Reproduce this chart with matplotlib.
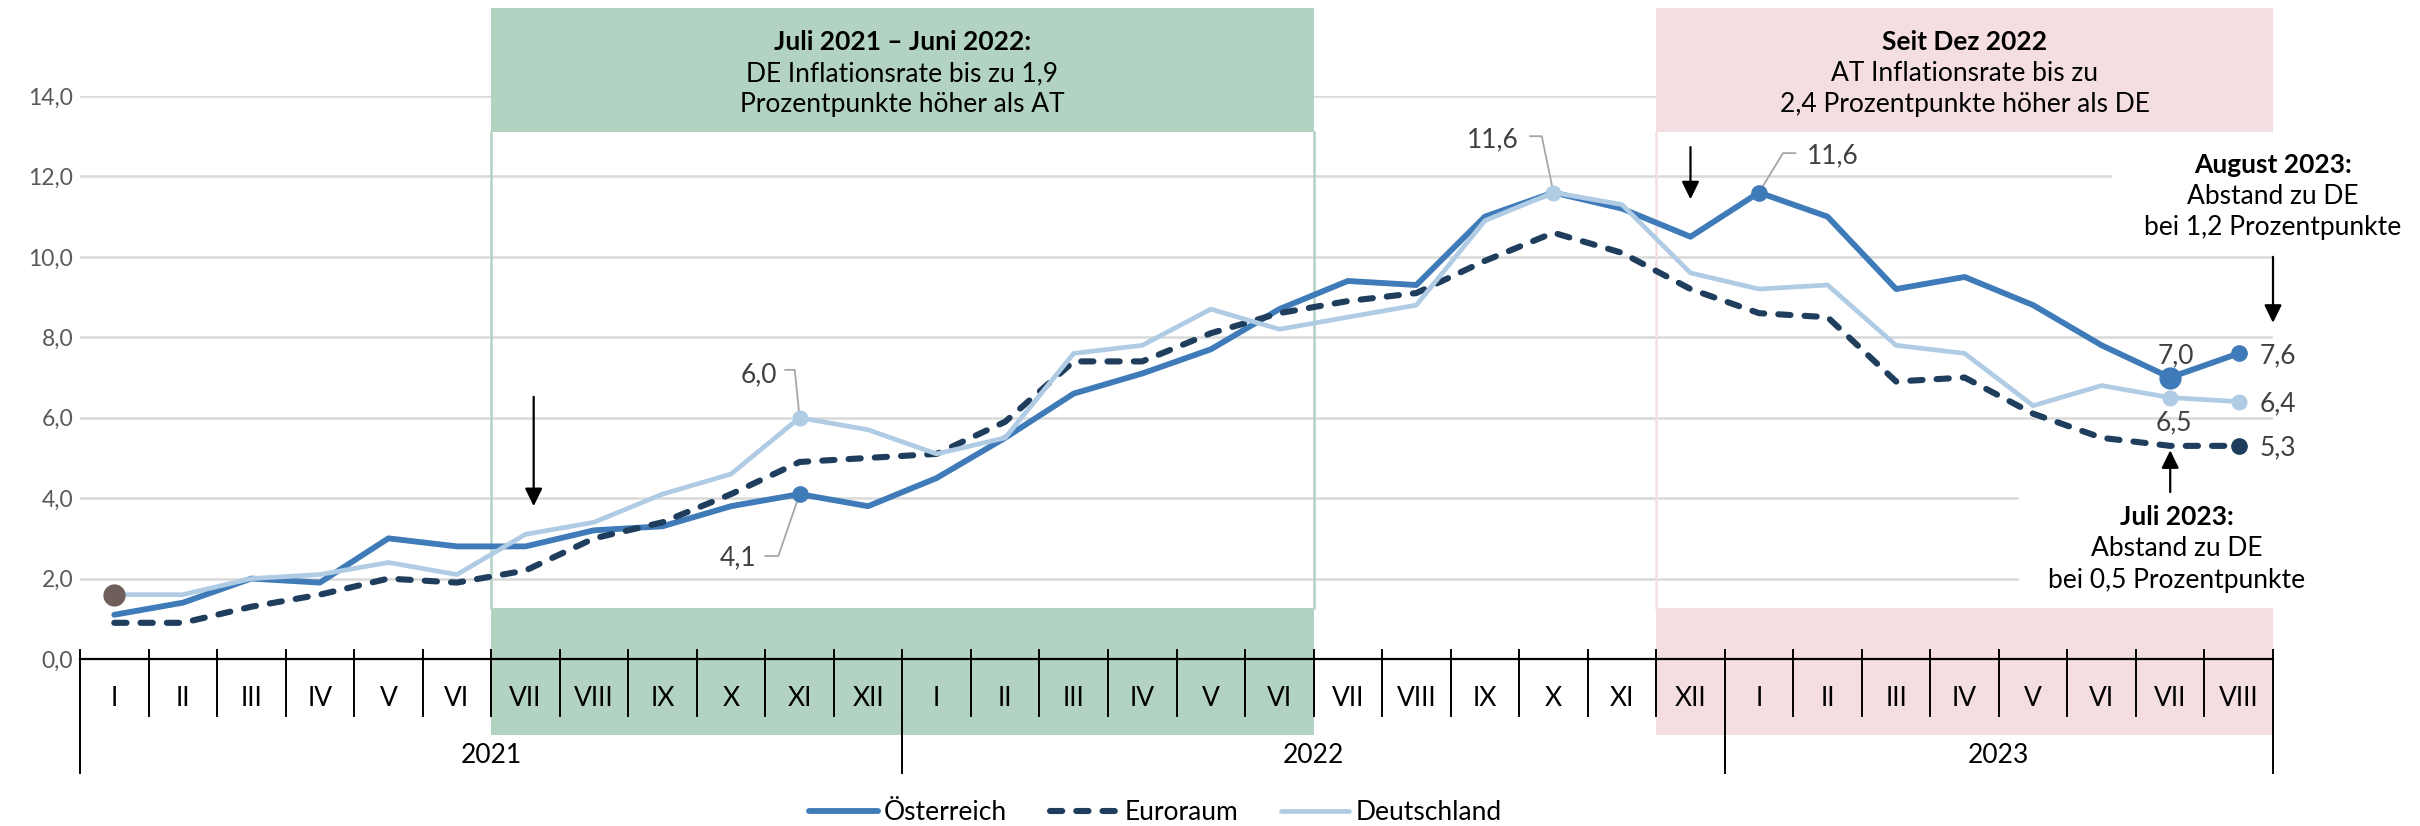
import matplotlib
matplotlib.use('Agg')
import matplotlib.pyplot as plt
from matplotlib.patches import Rectangle
from matplotlib import font_manager

# ---------------- data ----------------
months = ['I', 'II', 'III', 'IV', 'V', 'VI', 'VII', 'VIII', 'IX', 'X', 'XI', 'XII',
          'I', 'II', 'III', 'IV', 'V', 'VI', 'VII', 'VIII', 'IX', 'X', 'XI', 'XII',
          'I', 'II', 'III', 'IV', 'V', 'VI', 'VII', 'VIII']
years = ['2021', '2022', '2023']
year_lengths = [12, 12, 8]

oesterreich = [1.1, 1.4, 2.0, 1.9, 3.0, 2.8, 2.8, 3.2, 3.3, 3.8, 4.1, 3.8,
               4.5, 5.5, 6.6, 7.1, 7.7, 8.7, 9.4, 9.3, 11.0, 11.6, 11.2, 10.5,
               11.6, 11.0, 9.2, 9.5, 8.8, 7.8, 7.0, 7.6]
euroraum = [0.9, 0.9, 1.3, 1.6, 2.0, 1.9, 2.2, 3.0, 3.4, 4.1, 4.9, 5.0,
            5.1, 5.9, 7.4, 7.4, 8.1, 8.6, 8.9, 9.1, 9.9, 10.6, 10.1, 9.2,
            8.6, 8.5, 6.9, 7.0, 6.1, 5.5, 5.3, 5.3]
deutschland = [1.6, 1.6, 2.0, 2.1, 2.4, 2.1, 3.1, 3.4, 4.1, 4.6, 6.0, 5.7,
               5.1, 5.5, 7.6, 7.8, 8.7, 8.2, 8.5, 8.8, 10.9, 11.6, 11.3, 9.6,
               9.2, 9.3, 7.8, 7.6, 6.3, 6.8, 6.5, 6.4]
series_names = ['Österreich', 'Euroraum', 'Deutschland']
yticks = [0, 2, 4, 6, 8, 10, 12, 14]

green_title = 'Juli 2021 – Juni 2022:'
green_lines = ['DE Inflationsrate bis zu 1,9', 'Prozentpunkte höher als AT']
pink_title = 'Seit Dez 2022'
pink_lines = ['AT Inflationsrate bis zu', '2,4 Prozentpunkte höher als DE']
aug_title = 'August 2023:'
aug_lines = ['Abstand zu DE', 'bei 1,2 Prozentpunkte']
jul_title = 'Juli 2023:'
jul_lines = ['Abstand zu DE', 'bei 0,5 Prozentpunkte']

# ---------------- style ----------------
avail = {f.name for f in font_manager.fontManager.ttflist}
FONT = 'DejaVu Sans'
for fam in ['Lato', 'Open Sans', 'Noto Sans', 'Liberation Sans']:
    if fam in avail:
        FONT = fam
        break
plt.rcParams['font.family'] = [FONT, 'DejaVu Sans']

C_AT = '#3e7bb8'
C_EA = '#1f3d5c'
C_DE = '#b0cbe4'
C_GREEN = '#b2d3c2'
C_PINK = '#f4dee1'
C_GRID = '#d9d9d9'
C_TXT = '#595959'
C_LBL = '#404040'
FS = 19

def fmt(v):
    return f'{v:.1f}'.replace('.', ',')

fig = plt.figure(figsize=(24.2, 8.26), dpi=100)
ax = fig.add_axes([80 / 2420, 167 / 826, 2193 / 2420, 563 / 826])
n = len(months)
x = list(range(n))
ax.set_xlim(-0.5, n - 0.5)
ax.set_ylim(0, 14)
for s in ax.spines.values():
    s.set_visible(False)
ax.set_xticks([])
ax.set_yticks(yticks)
ax.set_yticklabels([fmt(v) for v in yticks])
ax.tick_params(axis='y', length=0, pad=5, labelsize=16.5, labelcolor=C_TXT)
ax.grid(axis='y', color=C_GRID, lw=1.8)
ax.set_axisbelow(True)

# ---------------- shaded periods ----------------
g0, g1 = 5.5, 17.5
p0, p1 = 22.5, 31.5
for (a, b, c) in [(g0, g1, C_GREEN), (p0, p1, C_PINK)]:
    ax.add_patch(Rectangle((a, 13.1), b - a, 16.2 - 13.1, facecolor=c, edgecolor='none',
                           clip_on=False, zorder=5))
    ax.add_patch(Rectangle((a, -1.88), b - a, 1.27 + 1.88, facecolor=c, edgecolor='none',
                           clip_on=False, zorder=1))
ax.plot([g0, g0], [1.27, 13.1], color=C_GREEN, lw=1.8, zorder=1.2)
ax.plot([g1, g1], [1.27, 13.1], color=C_GREEN, lw=1.8, zorder=1.2)
ax.plot([p0, p0], [1.27, 13.1], color=C_PINK, lw=1.8, zorder=1.2)

# white areas behind right-hand annotations
ax.add_patch(Rectangle((29.15, 10.35), 4.5, 2.4, facecolor='white', edgecolor='none',
                       clip_on=False, zorder=1.1))
ax.add_patch(Rectangle((27.8, 1.45), 5.0, 2.75, facecolor='white', edgecolor='none',
                       clip_on=False, zorder=1.1))

# ---------------- category axis ----------------
ax.plot([-0.5, n - 0.5], [0, 0], color='black', lw=1.6, clip_on=False, zorder=2)
for k in range(n + 1):
    ax.plot([k - 0.5, k - 0.5], [0.22, -1.42], color='black', lw=1.4,
            clip_on=False, zorder=2)
for i, m in enumerate(months):
    ax.text(i, -0.97, m, ha='center', va='center', fontsize=FS, color='black',
            clip_on=False)
bounds = [-0.5]
for L in year_lengths:
    bounds.append(bounds[-1] + L)
for b in bounds:
    ax.plot([b, b], [-1.42, -2.84], color='black', lw=1.4, clip_on=False, zorder=2)
for i, yl in enumerate(years):
    ax.text((bounds[i] + bounds[i + 1]) / 2, -2.41, yl, ha='center', va='center',
            fontsize=FS, color='black', clip_on=False)

# ---------------- series ----------------
l_at, = ax.plot(x, oesterreich, color=C_AT, lw=4.2, solid_joinstyle='round',
                solid_capstyle='round', zorder=3, label=series_names[0])
l_ea, = ax.plot(x, euroraum, color=C_EA, lw=4.4, ls=(0, (2.0, 2.3)),
                dash_capstyle='round', dash_joinstyle='round', zorder=3.1,
                label=series_names[1])
l_de, = ax.plot(x, deutschland, color=C_DE, lw=3.4, solid_joinstyle='round',
                solid_capstyle='round', zorder=3.2, label=series_names[2])

# markers
for i, ms in [(10, 11), (24, 11), (30, 15), (31, 11)]:
    ax.plot(i, oesterreich[i], 'o', color=C_AT, ms=ms, zorder=4)
for i in [10, 21, 30, 31]:
    ax.plot(i, deutschland[i], 'o', color=C_DE, ms=10.5, zorder=4)
ax.plot(31, euroraum[31], 'o', color=C_EA, ms=11, zorder=4)
ax.plot(0, deutschland[0], 'o', color='#6e5f5a', ms=15, zorder=4.5)

# data labels with leader lines
def leader(pts):
    xs, ys = zip(*pts)
    ax.plot(xs, ys, color='#a6a6a6', lw=1.3, zorder=3.5)

ax.text(9.4, 7.06, fmt(deutschland[10]), ha='center', va='center', fontsize=FS, color=C_LBL)
leader([(9.79, 7.19), (9.93, 7.19), (10, deutschland[10])])
ax.text(9.1, 2.51, fmt(oesterreich[10]), ha='center', va='center', fontsize=FS, color=C_LBL)
leader([(9.5, 2.56), (9.69, 2.56), (10, oesterreich[10])])
ax.text(20.12, 12.9, fmt(deutschland[21]), ha='center', va='center', fontsize=FS, color=C_LBL)
leader([(20.66, 13.0), (20.83, 13.0), (21, deutschland[21])])
ax.text(25.08, 12.51, fmt(oesterreich[24]), ha='center', va='center', fontsize=FS, color=C_LBL)
leader([(24.53, 12.58), (24.35, 12.58), (24, oesterreich[24])])
ax.text(30.08, oesterreich[30] + 0.55, fmt(oesterreich[30]), ha='center', va='center',
        fontsize=FS, color=C_LBL, zorder=6)
ax.text(30.06, deutschland[30] - 0.62, fmt(deutschland[30]), ha='center', va='center',
        fontsize=FS, color=C_LBL, zorder=6)
for v in [oesterreich[31], deutschland[31], euroraum[31]]:
    ax.text(31.3, v - 0.05, fmt(v), ha='left', va='center', fontsize=FS, color=C_LBL,
            clip_on=False, zorder=6)

# ---------------- annotation boxes ----------------
def block(cx, ys, title, lines):
    ax.text(cx, ys[0], title, ha='center', va='center', fontsize=FS, fontweight='bold',
            color='black', clip_on=False, zorder=6)
    for yy, t in zip(ys[1:], lines):
        ax.text(cx, yy, t, ha='center', va='center', fontsize=FS, color='black',
                clip_on=False, zorder=6)

block((g0 + g1) / 2, [15.34, 14.56, 13.78], green_title, green_lines)
block((p0 + p1) / 2, [15.34, 14.56, 13.78], pink_title, pink_lines)
block(31.5, [12.29, 11.49, 10.72], aug_title, aug_lines)
block(30.1, [3.53, 2.74, 1.96], jul_title, jul_lines)

# ---------------- arrows ----------------
def arrow(x0, y0, y1):
    ax.annotate('', xy=(x0, y1), xytext=(x0, y0), annotation_clip=False,
                arrowprops=dict(arrowstyle='-|>,head_length=0.45,head_width=0.22',
                                mutation_scale=24, lw=1.6, color='black',
                                shrinkA=0, shrinkB=0), zorder=6)

arrow(6.12, 6.52, 3.8)
arrow(23.0, 12.73, 11.43)
arrow(31.5, 10.0, 8.36)
arrow(30.0, 4.15, 5.19)

# ---------------- legend ----------------
fig.legend(handles=[l_at, l_ea, l_de], loc='center', bbox_to_anchor=(0.4775, 0.016),
           ncol=3, frameon=False, fontsize=FS, handlelength=2.6, handletextpad=0.25,
           columnspacing=1.6)

fig.savefig('out.png', dpi=100)
